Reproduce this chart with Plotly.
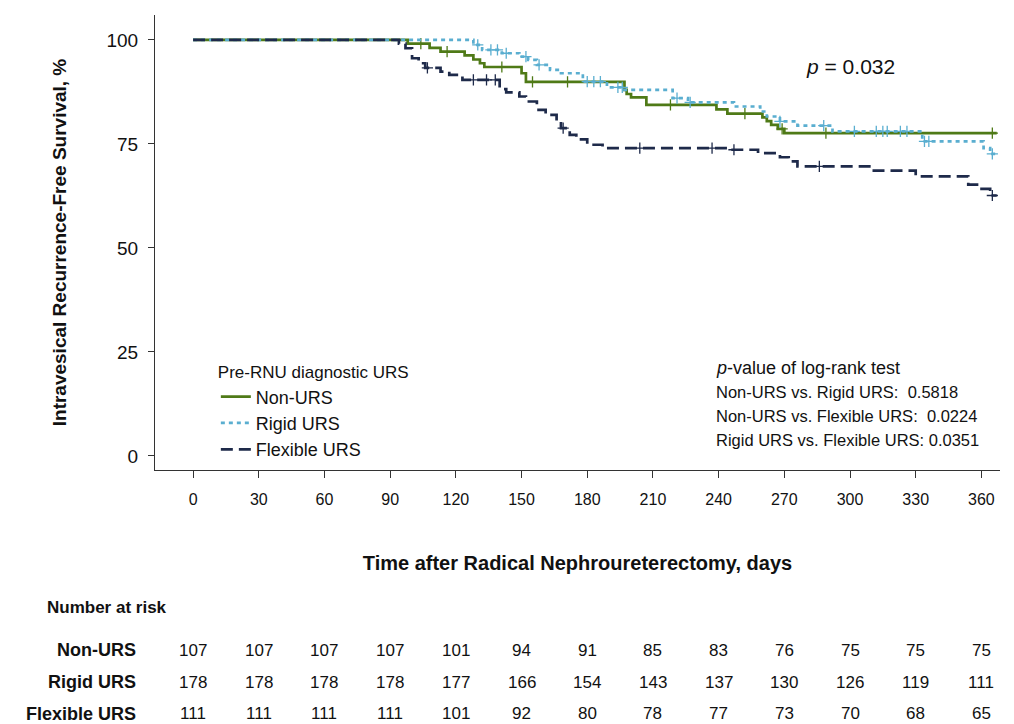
import numpy as np
import plotly.graph_objects as go

# ---------------- data ----------------
series_names = ["Non-URS", "Rigid URS", "Flexible URS"]

nonurs_t = [0, 98, 108, 113, 124, 128, 131, 133, 150, 152, 197, 198, 200, 207, 239, 244, 260, 262, 264, 267, 270]
nonurs_s = [100, 99.1, 98.1, 97.2, 96.3, 95.3, 94.4, 93.5, 92.0, 89.9, 88.0, 87.0, 86.2, 84.4, 83.3, 82.3, 81.4, 80.5, 79.6, 78.6, 77.6]
nonurs_cens = [104, 116, 141, 155, 171, 218, 252, 269, 289, 365]

rigid_t = [0, 128, 132, 141, 149, 153, 157, 163, 168, 178, 189, 197, 219, 226, 247, 259, 262, 268, 276, 292, 333, 361, 364]
rigid_s = [100, 98.8, 97.6, 96.8, 96.0, 95.2, 94.0, 92.8, 92.0, 90.0, 88.6, 88.0, 86.0, 85.0, 84.0, 82.8, 81.6, 80.4, 79.4, 78.0, 75.6, 74.0, 72.6]
rigid_cens = [130, 136, 139, 143, 152, 158, 180, 183, 186, 194, 196, 221, 227, 268, 288, 302, 312, 315, 317, 323, 326, 334, 336, 365]

flex_t = [0, 94, 97, 100, 103, 106, 113, 117, 123, 140, 143, 149, 152, 157, 161, 166, 168, 172, 175, 180, 187, 245, 258, 268, 272, 276, 310, 330, 354, 358, 364]
flex_s = [100, 99.1, 98.0, 95.6, 94.4, 93.3, 92.4, 91.6, 90.4, 88.2, 87.4, 86.4, 85.2, 83.2, 82.0, 80.3, 78.8, 77.2, 76.1, 74.8, 74.0, 73.6, 72.8, 71.8, 70.8, 69.6, 68.6, 67.2, 65.2, 64.2, 62.6]
flex_cens = [107, 128, 134, 138, 169, 204, 237, 247, 286, 365]

t_end = 367

x_ticks = list(range(0, 361, 30))
y_ticks = [0, 25, 50, 75, 100]

risk_nonurs = [107, 107, 107, 107, 101, 94, 91, 85, 83, 76, 75, 75, 75]
risk_rigid = [178, 178, 178, 178, 177, 166, 154, 143, 137, 130, 126, 119, 111]
risk_flex = [111, 111, 111, 111, 101, 92, 80, 78, 77, 73, 70, 68, 65]

pairwise_labels = ["Non-URS vs. Rigid URS:  0.5818",
                   "Non-URS vs. Flexible URS:  0.0224",
                   "Rigid URS vs. Flexible URS: 0.0351"]

# ---------------- styles ----------------
colors = ["#4f7a17", "#5aaed0", "#1e2a4a"]
dashes = ["solid", "4px,4px", "12px,6px"]
widths = [2.7, 2.7, 2.7]
FONT = "Liberation Sans, Arial, sans-serif"

fig = go.Figure()

all_t = [nonurs_t, rigid_t, flex_t]
all_s = [nonurs_s, rigid_s, flex_s]
all_c = [nonurs_cens, rigid_cens, flex_cens]

for name, t, s, c, col, dsh, w in zip(series_names, all_t, all_s, all_c, colors, dashes, widths):
    tx = list(t) + [t_end]
    sy = list(s) + [s[-1]]
    fig.add_trace(go.Scatter(x=tx, y=sy, mode="lines", line_shape="hv",
                             line=dict(color=col, width=w, dash=dsh),
                             name=name, legendgroup=name))
    idx = np.searchsorted(np.array(t), np.array(c), side="right") - 1
    cy = [s[i] for i in idx]
    fig.add_trace(go.Scatter(x=c, y=cy, mode="markers",
                             marker=dict(symbol="cross-thin", size=8, color=col,
                                         line=dict(width=1.3, color=col)),
                             showlegend=False, legendgroup=name, hoverinfo="skip"))

# p value
fig.add_annotation(x=300, y=93.5, xref="x", yref="y", text="<i>p</i> = 0.032",
                   showarrow=False, font=dict(family=FONT, size=21, color="#111"))

# log-rank annotations
fig.add_annotation(x=0.662, y=0.225, xref="paper", yref="paper", xanchor="left", yanchor="middle",
                   text="<i>p</i>-value of log-rank test", showarrow=False,
                   font=dict(family=FONT, size=18, color="#111"))
for i, lab in enumerate(pairwise_labels):
    fig.add_annotation(x=0.662, y=0.171 - i * 0.053, xref="paper", yref="paper",
                       xanchor="left", yanchor="middle", text=lab, showarrow=False,
                       font=dict(family=FONT, size=16.5, color="#111"))

# risk table
fig.add_annotation(x=-0.057, y=-0.303, xref="paper", yref="paper", xanchor="center", yanchor="middle",
                   text="<b>Number at risk</b>", showarrow=False,
                   font=dict(family=FONT, size=17, color="#111"))
row_y = [-0.396, -0.466, -0.536]
for name, ry, vals in zip(series_names, row_y, [risk_nonurs, risk_rigid, risk_flex]):
    fig.add_annotation(x=-0.02, y=ry, xref="paper", yref="paper", xanchor="right", yanchor="middle",
                       text="<b>" + name + "</b>", showarrow=False,
                       font=dict(family=FONT, size=18, color="#111"))
    for xv, v in zip(x_ticks, vals):
        fig.add_annotation(x=xv, y=ry, xref="x", yref="paper", xanchor="center", yanchor="middle",
                           text=str(v), showarrow=False,
                           font=dict(family=FONT, size=17, color="#111"))

fig.update_layout(
    width=1014, height=724,
    margin=dict(l=155, r=14, t=15, b=254),
    paper_bgcolor="white", plot_bgcolor="white",
    font=dict(family=FONT, color="#111"),
    legend=dict(x=0.072, y=0.25, xanchor="left", yanchor="top",
                title=dict(text="Pre-RNU diagnostic URS", font=dict(family=FONT, size=17)),
                font=dict(family=FONT, size=18), bgcolor="rgba(0,0,0,0)",
                itemwidth=30, tracegroupgap=0),
    xaxis=dict(range=[-17.4, 368.5], tickvals=x_ticks, ticks="outside", ticklen=7,
               showline=True, linecolor="#333", linewidth=1, tickcolor="#333",
               showgrid=False, zeroline=False, ticklabelstandoff=8,
               tickfont=dict(family=FONT, size=16),
               title=dict(text="<b>Time after Radical Nephroureterectomy, days</b>",
                          font=dict(family=FONT, size=20), standoff=48)),
    yaxis=dict(range=[-3.4, 106], tickvals=y_ticks, ticks="outside", ticklen=6,
               showline=True, linecolor="#333", linewidth=1, tickcolor="#333",
               showgrid=False, zeroline=False, ticklabelstandoff=6,
               tickfont=dict(family=FONT, size=19),
               title=dict(text="<b>Intravesical Recurrence-Free Survival, %</b>",
                          font=dict(family=FONT, size=19), standoff=34)),
)

fig.write_html("out.html", config={"displayModeBar": False},
               post_script="document.body.style.margin='0px';")
